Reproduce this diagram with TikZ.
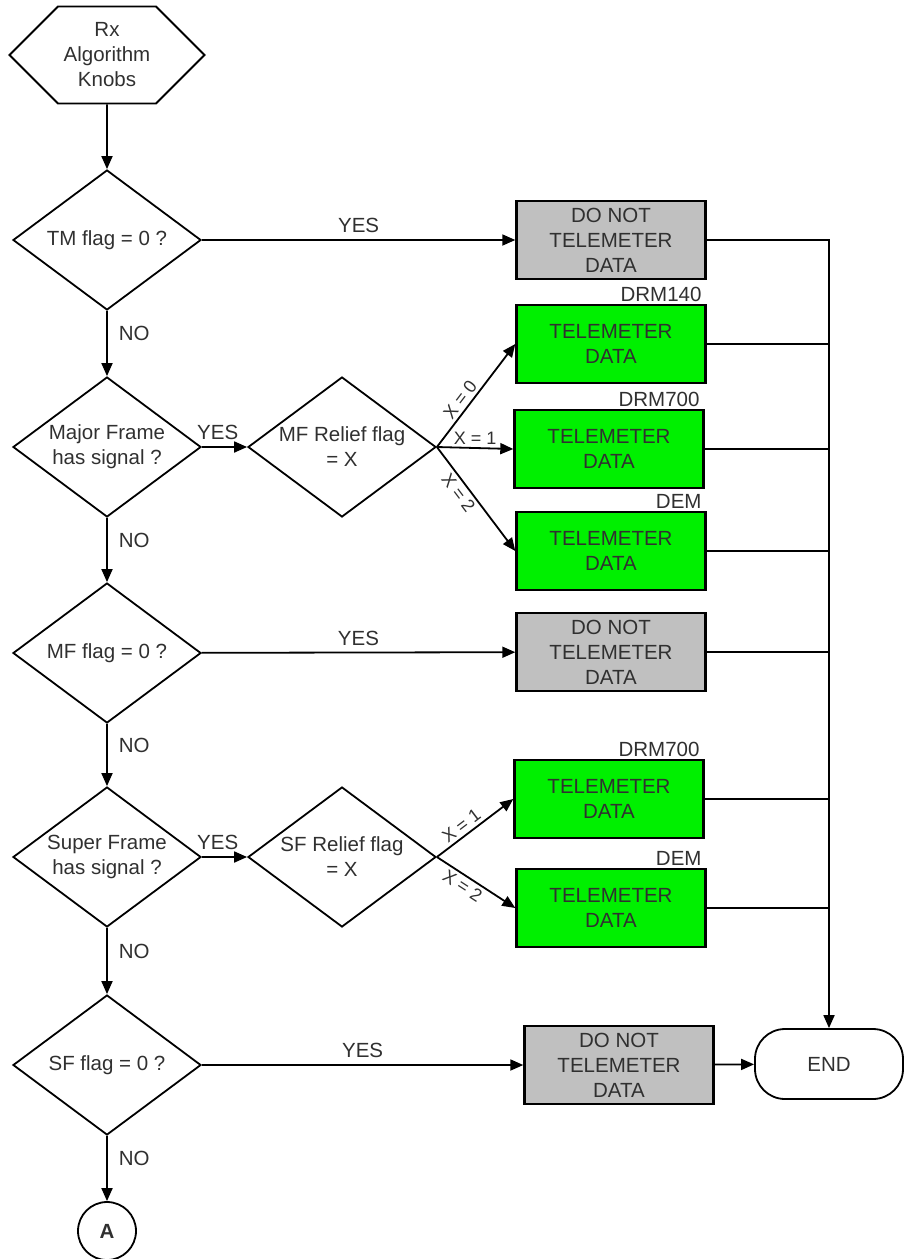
\documentclass[tikz,border=0pt]{standalone}
\usepackage{fontspec}
\setmainfont{Liberation Sans}
\usetikzlibrary{arrows.meta,positioning,calc,shapes.geometric,shapes.symbols}
\definecolor{fcgreen}{HTML}{00F000}
\definecolor{fcgray}{HTML}{C0C0C0}
\definecolor{fctext}{HTML}{303030}

\begin{document}
\begin{tikzpicture}[x=1pt, y=-1pt,
    every node/.style={font=\fontsize{20.5}{25}\selectfont, text=fctext},
    decision/.style={diamond, draw, line width=1.8pt, aspect=1.34, inner sep=0pt, minimum width=188pt, minimum height=140pt, align=center},
    knob/.style={signal, signal to=west and east, signal pointer angle=90, draw, line width=1.8pt, minimum width=195pt, minimum height=97pt, inner sep=0pt, align=center},
    nodata/.style={rectangle, draw, line width=2.4pt, fill=fcgray, minimum width=189pt, minimum height=78pt, align=center},
    tmdata/.style={nodata, fill=fcgreen},
    terminal/.style={rectangle, rounded corners=30pt, draw, line width=1.8pt, minimum width=148pt, minimum height=70pt},
    connector/.style={circle, draw, line width=1.8pt, minimum size=58pt, inner sep=0pt, font=\fontsize{20.5}{25}\selectfont\bfseries},
    arrow/.style={-{Triangle[length=13pt,width=11pt]}, line width=1.8pt},
    wire/.style={line width=1.8pt},
    lab/.style={inner sep=2pt},
    xlab/.style={inner sep=3pt, font=\fontsize{18}{20}\selectfont},
    boxtag/.style={anchor=base east, inner sep=0pt, xshift=-5pt, yshift=2pt}
  ]
    \useasboundingbox (0,0) rectangle (907,1259);

    \node[knob] (knobs) at (107,55) {Rx\\Algorithm\\Knobs};
    \node[decision] (tmflag) at (107,240) {TM flag = 0 ?};
    \node[decision] (mfsig) at (107,447) {Major Frame\\has signal ?};
    \node[decision] (mfrelief) at (342,447) {MF Relief flag\\= X};
    \node[decision] (mfflag) at (107,653) {MF flag = 0 ?};
    \node[decision] (sfsig) at (107,857) {Super Frame\\has signal ?};
    \node[decision] (sfrelief) at (342,857) {SF Relief flag\\= X};
    \node[decision] (sfflag) at (107,1065) {SF flag = 0 ?};
    \node[connector] (pagea) at (107,1231) {A};

    \node[nodata] (tmskip) at (611,240) {DO NOT\\TELEMETER\\DATA};
    \node[tmdata] (mfdrm140) at (611,344) {TELEMETER\\DATA};
    \node[tmdata] (mfdrm700) at (609,449) {TELEMETER\\DATA};
    \node[tmdata] (mfdem) at (611,551) {TELEMETER\\DATA};
    \node[nodata] (mfskip) at (611,652) {DO NOT\\TELEMETER\\DATA};
    \node[tmdata] (sfdrm700) at (609,799) {TELEMETER\\DATA};
    \node[tmdata] (sfdem) at (611,908) {TELEMETER\\DATA};
    \node[nodata] (sfskip) at (619,1065) {DO NOT\\TELEMETER\\DATA};
    \node[terminal] (finish) at (829,1064) {END};

    \node[boxtag] (tag140) at (mfdrm140.north east) {DRM140};
    \node[boxtag] (tag700a) at (mfdrm700.north east) {DRM700};
    \node[boxtag] (tagdema) at (mfdem.north east) {DEM};
    \node[boxtag] (tag700b) at (sfdrm700.north east) {DRM700};
    \node[boxtag] (tagdemb) at (sfdem.north east) {DEM};

    \draw[arrow] (knobs) -- (tmflag);
    \draw[arrow] (tmflag) -- node[lab, above=4pt] {YES} (tmskip);
    \draw[arrow] (tmflag) -- node[lab, right=9pt, pos=0.35] {NO} (mfsig);
    \draw[arrow] (mfsig) -- node[lab, above=4pt, pos=0.35] {YES} (mfrelief);
    \draw[arrow] (mfsig) -- node[lab, right=9pt, pos=0.35] {NO} (mfflag);
    \draw[arrow] (mfrelief.east) -- node[xlab, sloped, above, pos=0.4] {X = 0} (mfdrm140.west);
    \draw[arrow] (mfrelief.east) -- node[xlab, above, pos=0.5] {X = 1} (mfdrm700.west);
    \draw[arrow] (mfrelief.east) -- node[xlab, sloped, below, pos=0.38] {X = 2} (mfdem.west);
    \draw[arrow] (mfflag) -- node[lab, above=4pt] {YES} (mfskip);
    \draw[arrow] (mfflag) -- node[lab, right=9pt, pos=0.35] {NO} (sfsig);
    \draw[arrow] (sfsig) -- node[lab, above=4pt, pos=0.35] {YES} (sfrelief);
    \draw[arrow] (sfsig) -- node[lab, right=9pt, pos=0.35] {NO} (sfflag);
    \draw[arrow] (sfrelief.east) -- node[xlab, sloped, above, pos=0.4] {X = 1} (sfdrm700.west);
    \draw[arrow] (sfrelief.east) -- node[xlab, sloped, below, pos=0.4] {X = 2} (sfdem.west);
    \draw[arrow] (sfflag) -- node[lab, above=4pt] {YES} (sfskip);
    \draw[arrow] (sfflag) -- node[lab, right=9pt, pos=0.35] {NO} (pagea);

    \draw[arrow] (tmskip.east) -| (finish.north);
    \foreach \b in {mfdrm140, mfdrm700, mfdem, mfskip, sfdrm700, sfdem}
      \draw[wire] (\b.east) -- (\b.east -| finish.north);
    \draw[arrow] (sfskip) -- (finish);
  \end{tikzpicture}
\end{document}
